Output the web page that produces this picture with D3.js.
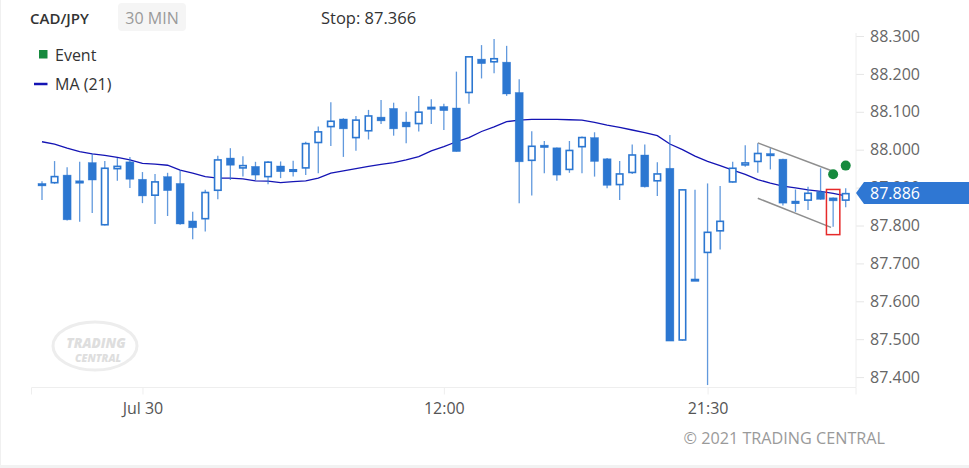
<!DOCTYPE html>
<html>
<head>
<meta charset="utf-8">
<script src="https://cdn.jsdelivr.net/npm/d3@7/dist/d3.min.js"></script>
<style>
  html, body { margin: 0; padding: 0; background: #fff; }
  svg { display: block; font-family: "Open Sans", "Noto Sans", sans-serif; }
</style>
</head>
<body>
<svg id="chart" width="969" height="468"></svg>
<script>
// ---------------- DATA ----------------
const symbol = "CAD/JPY";
const period = "30 MIN";
const stopLabel = "Stop: 87.366";
const lastPrice = 87.886;

const openV = [87.911,87.911,87.933,87.918,87.966,87.800,87.948,87.968,87.922,87.878,
  87.929,87.911,87.812,87.816,87.891,87.978,87.950,87.956,87.927,87.957,
  87.942,87.950,88.017,88.059,88.081,88.030,88.048,88.086,88.109,88.073,
  88.067,88.113,88.114,88.110,88.149,88.239,88.230,88.231,88.151,87.970,
  88.012,88.005,87.946,88.006,88.032,87.976,87.906,87.938,87.986,87.916,
  87.951,87.496,87.659,87.727,87.784,87.913,87.958,87.967,87.990,87.975,
  87.859,87.865,87.889,87.873,87.865];
const highV = [87.917,87.970,87.954,87.968,87.989,87.970,87.978,87.981,87.941,87.936,
  87.939,87.946,87.836,87.894,87.984,88.004,87.983,87.968,87.970,87.969,
  87.971,88.021,88.061,88.125,88.083,88.089,88.105,88.131,88.124,88.100,
  88.142,88.133,88.121,88.206,88.247,88.276,88.292,88.274,88.186,88.049,
  88.023,88.006,88.023,88.035,88.046,87.978,87.970,88.014,88.014,87.967,
  88.039,87.896,87.894,87.911,87.904,87.968,88.012,88.017,88.004,87.976,
  87.895,87.902,87.951,87.874,87.898];
const lowV = [87.867,87.910,87.813,87.810,87.833,87.800,87.918,87.899,87.859,87.804,
  87.825,87.802,87.764,87.784,87.869,87.920,87.929,87.920,87.909,87.925,
  87.929,87.933,87.938,88.010,87.981,87.997,88.027,88.068,88.037,88.017,
  88.048,88.068,88.052,87.995,88.121,88.188,88.202,88.142,87.859,87.879,
  87.938,87.918,87.939,87.938,87.929,87.898,87.867,87.936,87.900,87.878,
  87.495,87.496,87.656,87.379,87.737,87.913,87.955,87.939,87.948,87.853,
  87.836,87.841,87.868,87.797,87.848];
const closeV = [87.909,87.931,87.815,87.917,87.920,87.953,87.958,87.922,87.878,87.917,
  87.892,87.804,87.794,87.889,87.975,87.959,87.960,87.933,87.969,87.942,
  87.949,88.018,88.049,88.077,88.055,88.080,88.091,88.076,88.055,88.060,
  88.101,88.108,88.103,87.995,88.247,88.227,88.242,88.147,87.968,88.011,
  88.006,87.933,88.000,88.034,87.969,87.906,87.938,87.988,87.902,87.938,
  87.495,87.896,87.657,87.784,87.813,87.953,87.967,87.992,87.989,87.859,
  87.865,87.887,87.869,87.865,87.886];
const maV = [88.021,88.015,88.004,87.995,87.989,87.985,87.980,87.973,87.964,87.962,
  87.959,87.946,87.938,87.929,87.925,87.925,87.923,87.918,87.917,87.913,
  87.916,87.918,87.925,87.938,87.944,87.950,87.956,87.961,87.966,87.973,
  87.982,87.997,88.008,88.021,88.032,88.048,88.060,88.074,88.078,88.080,
  88.080,88.080,88.079,88.078,88.072,88.065,88.059,88.052,88.045,88.037,
  88.015,88.000,87.983,87.969,87.958,87.946,87.935,87.921,87.912,87.904,
  87.899,87.894,87.890,87.885,87.878];

const xTickIndex = [8, 32, 53];
const xTickLabels = ["Jul 30", "12:00", "21:30"];
const yTicks = [87.4, 87.5, 87.6, 87.7, 87.8, 87.9, 88.0, 88.1, 88.2, 88.3];

const eventIndex = [63, 64];
const eventValue = [87.935, 87.958];

const channelIdx = [57, 62.83];
const channelUpper = [88.018, 87.945];
const channelLower = [87.872, 87.795];

const highlightIndex = 63;

// ---------------- CHART ----------------
const svg = d3.select("#chart");
const blue = "#2c77d1";

const x = d3.scaleLinear().domain([0, 64]).range([42, 845.7]);
const y = d3.scaleLinear().domain([87.4, 88.3]).range([377.1, 36]);

const plotLeft = 31.5, plotRight = 856, plotBottom = 387.5;

// outer frame / bottom band
svg.append("rect").attr("x", 0).attr("y", 465).attr("width", 969).attr("height", 3).attr("fill", "#f2f2f2");
svg.append("line").attr("x1", 0.5).attr("x2", 0.5).attr("y1", 0).attr("y2", 465).attr("stroke", "#f0f0f0");

// watermark
const wm = svg.append("g");
wm.append("ellipse").attr("cx", 95).attr("cy", 346).attr("rx", 42).attr("ry", 24)
  .attr("fill", "none").attr("stroke", "#ededed").attr("stroke-width", 3);
wm.append("text").attr("x", 96).attr("y", 348).attr("text-anchor", "middle")
  .attr("font-size", 13.5).attr("font-weight", 800).attr("font-style", "italic").attr("fill", "#dedede").text("TRADING");
wm.append("text").attr("x", 98).attr("y", 362).attr("text-anchor", "middle")
  .attr("font-size", 10.5).attr("font-weight", 800).attr("font-style", "italic").attr("fill", "#dedede").text("CENTRAL");

// x axis
const xAxis = d3.axisBottom(x).tickValues(xTickIndex)
  .tickFormat((d, i) => xTickLabels[i]).tickSize(7).tickSizeOuter(0).tickPadding(8);
const gx = svg.append("g").attr("transform", `translate(0,${plotBottom})`).call(xAxis);
gx.select(".domain").remove();
gx.append("line").attr("x1", plotLeft).attr("x2", plotRight).attr("stroke", "#eeeeee");
gx.append("line").attr("x1", plotLeft).attr("x2", plotLeft).attr("y2", 7).attr("stroke", "#eeeeee");
gx.append("line").attr("x1", plotRight).attr("x2", plotRight).attr("y2", 7).attr("stroke", "#eeeeee");
gx.selectAll(".tick line").attr("stroke", "#eeeeee");
gx.selectAll(".tick text").attr("fill", "#555").attr("font-size", 16).attr("font-family", "Open Sans");

// y axis
const yAxis = d3.axisRight(y).tickValues(yTicks).tickFormat(d3.format(".3f"))
  .tickSize(8).tickSizeOuter(0).tickPadding(6);
const gy = svg.append("g").attr("transform", `translate(${plotRight},0)`).call(yAxis);
gy.select(".domain").remove();
gy.append("line").attr("y1", 33).attr("y2", plotBottom).attr("stroke", "#eeeeee");
gy.selectAll(".tick line").attr("stroke", "#e6e6e6");
gy.selectAll(".tick text").attr("fill", "#666").attr("font-size", 16).attr("font-family", "Open Sans");

// MA line
const maLine = d3.line().x((d, i) => x(i)).y(d => y(d));
svg.append("path").datum(maV).attr("d", maLine)
  .attr("fill", "none").attr("stroke", "#1414b4").attr("stroke-width", 1.3);

// candles
const candles = d3.range(openV.length).map(i => ({
  i, o: openV[i], h: highV[i], l: lowV[i], c: closeV[i]
}));
const cg = svg.append("g");
cg.selectAll("line.wick").data(candles).join("line")
  .attr("class", "wick")
  .attr("x1", d => x(d.i)).attr("x2", d => x(d.i))
  .attr("y1", d => y(d.h)).attr("y2", d => y(d.l))
  .attr("stroke", blue).attr("stroke-width", 1.3).attr("stroke-opacity", 0.75);
const bw = 8;
cg.selectAll("rect.body").data(candles).join("rect")
  .attr("class", "body")
  .attr("x", d => x(d.i) - bw / 2 + (d.c >= d.o ? 0.75 : 0))
  .attr("width", d => d.c >= d.o ? bw - 1.5 : bw)
  .attr("y", d => y(Math.max(d.o, d.c)) + (d.c >= d.o ? 0.75 : 0))
  .attr("height", d => Math.max(d.c >= d.o ? 1.5 : 2.5, Math.abs(y(d.o) - y(d.c)) - (d.c >= d.o ? 1.5 : 0)))
  .attr("fill", d => d.c >= d.o ? "#fff" : blue)
  .attr("stroke", blue)
  .attr("stroke-width", d => d.c >= d.o ? 1.6 : 0.6)
  .attr("stroke-opacity", d => d.c >= d.o ? 1 : 0.6);

// channel lines
[channelUpper, channelLower].forEach(vals => {
  svg.append("line")
    .attr("x1", x(channelIdx[0])).attr("x2", x(channelIdx[1]))
    .attr("y1", y(vals[0])).attr("y2", y(vals[1]))
    .attr("stroke", "#8e8e8e").attr("stroke-width", 1.5);
});

// highlight box
const hc = candles[highlightIndex];
svg.append("rect")
  .attr("x", x(hc.i) - 6.7).attr("width", 13.4)
  .attr("y", y(hc.h) - 8).attr("height", y(hc.l) - y(hc.h) + 16)
  .attr("fill", "none").attr("stroke", "#e62a2a").attr("stroke-width", 1.5);

// events
svg.selectAll("circle.ev").data(eventIndex).join("circle")
  .attr("class", "ev")
  .attr("cx", d => x(d)).attr("cy", (d, i) => y(eventValue[i])).attr("r", 5)
  .attr("fill", "#168a3e");

// price tag
const py = y(lastPrice);
svg.append("path")
  .attr("d", `M${plotRight},${py} L${plotRight + 8},${py - 11} L969,${py - 11} L969,${py + 11} L${plotRight + 8},${py + 11} Z`)
  .attr("fill", "#2f77d3");
svg.append("text").attr("x", 870).attr("y", py).attr("dy", "0.36em")
  .attr("fill", "#fff").attr("font-size", 16).text(d3.format(".3f")(lastPrice));

// header
svg.append("text").attr("x", 30).attr("y", 24).attr("font-size", 15).attr("font-weight", 600)
  .attr("fill", "#333").text(symbol);
svg.append("rect").attr("x", 118).attr("y", 3).attr("width", 68).attr("height", 28).attr("rx", 4)
  .attr("fill", "#f5f5f5");
svg.append("text").attr("x", 152).attr("y", 24).attr("text-anchor", "middle").attr("font-size", 16)
  .attr("fill", "#9a9a9a").text(period);
svg.append("text").attr("x", 321).attr("y", 24).attr("font-size", 16.5)
  .attr("fill", "#333").text(stopLabel);

// legend
svg.append("rect").attr("x", 39).attr("y", 50).attr("width", 8.5).attr("height", 8.5).attr("fill", "#168a3e");
svg.append("text").attr("x", 55).attr("y", 61).attr("font-size", 16).attr("fill", "#333").text("Event");
svg.append("line").attr("x1", 34).attr("x2", 47.5).attr("y1", 84).attr("y2", 84)
  .attr("stroke", "#1414b4").attr("stroke-width", 2.5);
svg.append("text").attr("x", 55).attr("y", 90).attr("font-size", 16).attr("fill", "#333").text("MA (21)");

// copyright
svg.append("text").attr("x", 885).attr("y", 444).attr("text-anchor", "end").attr("font-size", 16.2)
  .attr("fill", "#9a9a9a").text("© 2021 TRADING CENTRAL");
</script>
</body>
</html>
